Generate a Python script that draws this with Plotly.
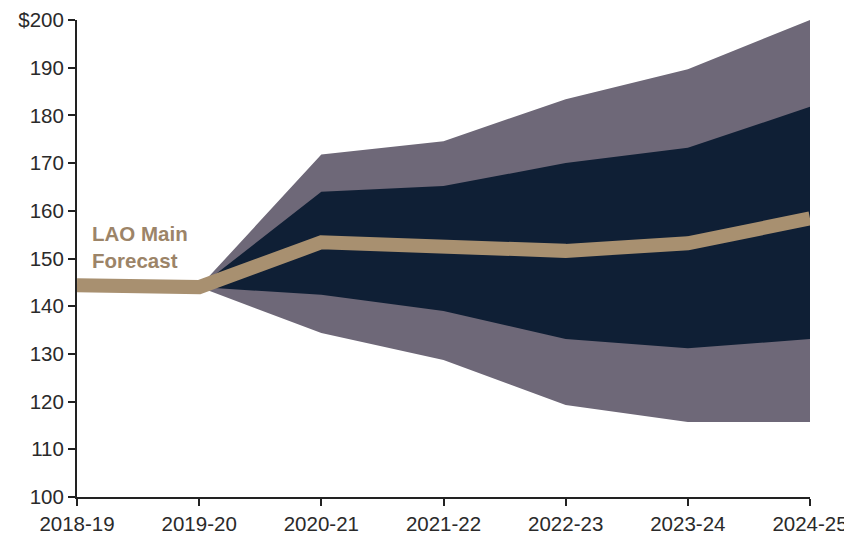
import plotly.graph_objects as go

years = ["2018-19", "2019-20", "2020-21", "2021-22", "2022-23", "2023-24", "2024-25"]
main_forecast = [144.4, 144.0, 153.4, 152.4, 151.6, 153.2, 158.4]

band_years = years[1:]
outer_upper = [144.0, 171.8, 174.6, 183.4, 189.7, 200.0]
inner_upper = [144.0, 164.0, 165.2, 170.0, 173.2, 181.8]
inner_lower = [144.0, 142.4, 139.0, 133.1, 131.2, 133.1]
outer_lower = [144.0, 134.4, 128.7, 119.3, 115.7, 115.7]

y_ticks = [100, 110, 120, 130, 140, 150, 160, 170, 180, 190, 200]
y_tick_labels = ["100", "110", "120", "130", "140", "150", "160", "170", "180", "190", "$200"]

x_idx = list(range(len(years)))
band_idx = x_idx[1:]

OUTER = "#6E6878"
INNER = "#0F1F35"
MAIN = "#A89070"

fig = go.Figure()
fig.add_trace(go.Scatter(x=band_idx, y=outer_lower, mode="lines", line=dict(width=0, color=OUTER),
                         showlegend=False, hoverinfo="skip"))
fig.add_trace(go.Scatter(x=band_idx, y=outer_upper, mode="lines", line=dict(width=0, color=OUTER),
                         fill="tonexty", fillcolor=OUTER, showlegend=False, hoverinfo="skip"))
fig.add_trace(go.Scatter(x=band_idx, y=inner_lower, mode="lines", line=dict(width=0, color=INNER),
                         showlegend=False, hoverinfo="skip"))
fig.add_trace(go.Scatter(x=band_idx, y=inner_upper, mode="lines", line=dict(width=0, color=INNER),
                         fill="tonexty", fillcolor=INNER, showlegend=False, hoverinfo="skip"))
fig.add_trace(go.Scatter(x=x_idx, y=main_forecast, mode="lines", line=dict(width=14, color=MAIN),
                         showlegend=False, name="LAO Main Forecast"))

fig.add_annotation(x=0.11, y=152.4, xref="x", yref="y", text="<b>LAO Main<br>Forecast</b>",
                   showarrow=False, xanchor="left", yanchor="middle", align="left",
                   font=dict(family="Liberation Sans, Arial", size=20.5, color="#9C8468"))

fig.update_layout(
    width=844, height=529,
    margin=dict(l=69, r=42, t=12, b=40, autoexpand=False),
    paper_bgcolor="white", plot_bgcolor="white",
    font=dict(family="Liberation Sans, Arial", size=20.5, color="#2a2a2a"),
)
fig.update_xaxes(range=[0, 6], tickvals=x_idx, ticktext=years, showgrid=False, zeroline=False,
                 showline=True, linecolor="#222222", linewidth=2, ticks="outside", ticklen=7,
                 tickwidth=2, tickcolor="#222222", fixedrange=True, automargin=False)
fig.update_yaxes(range=[100, 200], tickvals=y_ticks, ticktext=y_tick_labels, showgrid=False,
                 zeroline=False, showline=True, linecolor="#222222", linewidth=2, ticks="outside",
                 ticklen=7, tickwidth=2, tickcolor="#222222", fixedrange=True, automargin=False)

fig.write_html("out.html")
